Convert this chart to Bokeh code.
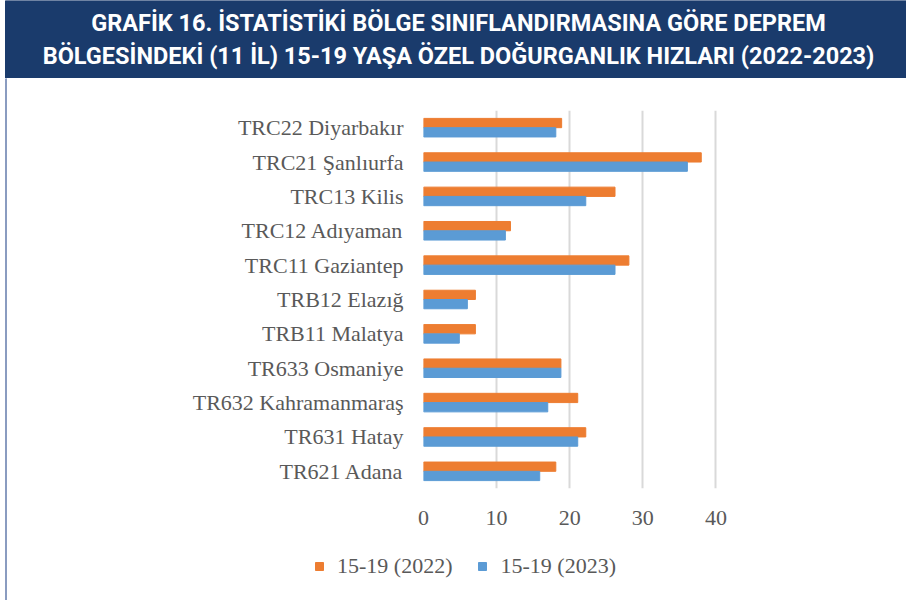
from bokeh.plotting import figure
from bokeh.models import Range1d, FactorRange, Legend, LegendItem, ColumnDataSource
from bokeh.transform import dodge
from bokeh.layouts import column, row
from bokeh.core.properties import value
from bokeh.embed import file_html
from bokeh.resources import INLINE

# ---- data ----
title_lines = [
    "GRAFİK 16. İSTATİSTİKİ BÖLGE SINIFLANDIRMASINA GÖRE DEPREM",
    "BÖLGESİNDEKİ (11 İL) 15-19 YAŞA ÖZEL DOĞURGANLIK HIZLARI (2022-2023)",
]
categories = [
    "TRC22 Diyarbakır", "TRC21 Şanlıurfa", "TRC13 Kilis", "TRC12 Adıyaman",
    "TRC11 Gaziantep", "TRB12 Elazığ", "TRB11 Malatya", "TR633 Osmaniye",
    "TR632 Kahramanmaraş", "TR631 Hatay", "TR621 Adana",
]
v2022 = [18.9, 38.0, 26.2, 11.9, 28.1, 7.1, 7.1, 18.8, 21.1, 22.2, 18.1]
v2023 = [18.1, 36.1, 22.2, 11.2, 26.2, 6.0, 4.9, 18.8, 17.0, 21.1, 15.9]
series_names = ["15-19 (2022)", "15-19 (2023)"]
x_ticks = [0, 10, 20, 30, 40]

NAVY = "#1a3b6c"
EDGE = "#8a9cc0"
ORANGE = "#ed7d31"
BLUE = "#5b9bd5"
GREY = "#595959"
W = 906
EW = 7
BAND_H = 78
MAIN_H = 462
LEG_H = 60


def bare(fig):
    fig.axis.visible = False
    fig.grid.visible = False
    fig.outline_line_color = None
    fig.frame_align = False
    return fig


# ---- title band ----
t = bare(figure(width=W, height=BAND_H, x_range=Range1d(0, W), y_range=Range1d(BAND_H, 0),
                output_backend="svg", toolbar_location=None, min_border=0))
t.quad(left=[5], right=[W], top=[0], bottom=[BAND_H], color=NAVY)
tsrc = ColumnDataSource(dict(x=[458, 458], y=[22, 55], text=title_lines))
t.text(x="x", y="y", text="text", source=tsrc, text_align="center",
       text_baseline="middle", text_color="white", text_font=value("Roboto"),
       text_font_style="bold", text_font_size="23.5px")

# ---- left frame edge ----
e = bare(figure(width=EW, height=MAIN_H + LEG_H, x_range=Range1d(0, EW), y_range=Range1d(0, 1),
                output_backend="svg", toolbar_location=None, min_border=0))
e.quad(left=[5], right=[6.5], top=[1], bottom=[0], color=EDGE)

# ---- chart ----
src = ColumnDataSource(dict(cat=categories, v22=v2022, v23=v2023))
p = figure(width=W - EW, height=MAIN_H, y_range=FactorRange(factors=categories[::-1]),
           x_range=Range1d(0, 42), output_backend="svg", toolbar_location=None,
           min_border_left=423 - EW, min_border_right=176, min_border_top=32,
           min_border_bottom=52)
p.frame_align = False
r1 = p.hbar(y=dodge("cat", 0.135, range=p.y_range), right="v22", left=0,
            height=0.27, source=src, color=ORANGE)
r2 = p.hbar(y=dodge("cat", -0.135, range=p.y_range), right="v23", left=0,
            height=0.27, source=src, color=BLUE)

p.outline_line_color = None
p.ygrid.grid_line_color = None
p.xgrid.grid_line_color = "#d9d9d9"
p.xgrid.grid_line_width = 2
p.xaxis.ticker = x_ticks
for ax in (p.xaxis, p.yaxis):
    ax.axis_line_color = None
    ax.major_tick_line_color = None
    ax.minor_tick_line_color = None
    ax.major_label_text_font = "Liberation Serif"
    ax.major_label_text_font_size = "22px"
    ax.major_label_text_color = GREY
p.xaxis.major_label_standoff = 16
p.yaxis.major_label_standoff = 14

# ---- legend strip (series swatches come from the same source, outside its view) ----
lg = bare(figure(width=W - EW, height=LEG_H, x_range=Range1d(-10, -9),
                 y_range=FactorRange(factors=categories[::-1]),
                 output_backend="svg", toolbar_location=None, min_border=0))
l1 = lg.hbar(y="cat", right="v22", left=0, height=0.27, source=src, color=ORANGE)
l2 = lg.hbar(y="cat", right="v23", left=0, height=0.27, source=src, color=BLUE)
legend = Legend(items=[LegendItem(label=series_names[0], renderers=[l1]),
                       LegendItem(label=series_names[1], renderers=[l2])],
                orientation="horizontal", location=(314 - EW, 21),
                padding=0, margin=0, spacing=25, label_standoff=13,
                glyph_width=10, glyph_height=10, label_height=10,
                label_text_font="Liberation Serif", label_text_font_size="22px",
                label_text_color=GREY, border_line_color=None,
                background_fill_alpha=0)
lg.add_layout(legend, "center")

out = column(t, row(e, column(p, lg, spacing=0), spacing=0), spacing=0)
open("out.html", "w").write(file_html(out, INLINE))
